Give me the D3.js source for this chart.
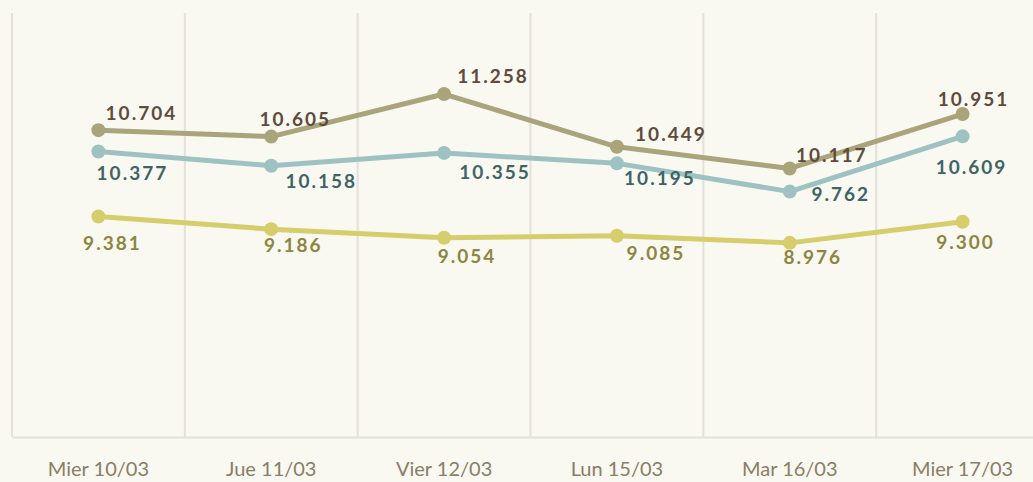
<!DOCTYPE html>
<html>
<head>
<meta charset="utf-8">
<script src="https://cdn.jsdelivr.net/npm/d3@7"></script>
<style>
  html, body { margin: 0; padding: 0; background: #f9f8f1; }
  svg { display: block; }
  .lbl { font-family: Lato, "Open Sans", sans-serif; font-weight: bold; font-size: 19px; letter-spacing: 2px; }
  .axis text { font-family: Lato, "Open Sans", sans-serif; font-size: 20px; fill: #8a7e66; }
</style>
</head>
<body>
<svg id="chart"></svg>
<script>
const categories = ["Mier 10/03", "Jue 11/03", "Vier 12/03", "Lun 15/03", "Mar 16/03", "Mier 17/03"];
const serieA = [10.704, 10.605, 11.258, 10.449, 10.117, 10.951];
const serieB = [10.377, 10.158, 10.355, 10.195, 9.762, 10.609];
const serieC = [9.381, 9.186, 9.054, 9.085, 8.976, 9.300];

// label offsets from each point (center x, baseline y)
const offsA = [[43, -10], [24, -11], [49, -11], [54, -6], [42, -6], [11, -8]];
const offsB = [[34, 29], [50, 22], [51, 26], [43, 22], [51, 9], [9, 38]];
const offsC = [[14, 34], [22, 23], [23, 25], [39, 24], [23, 21], [3, 27]];

const width = 1033, height = 482;
const svg = d3.select("#chart").attr("width", width).attr("height", height);

const xScale = d3.scaleBand().domain(categories).range([12, 1049]);
const yScale = d3.scaleLinear().domain([6, 12.5]).range([437, 13]);

// vertical gridlines at category edges
const edges = categories.map((c) => xScale(c)).concat([xScale.range()[1]]);
svg.append("g")
  .selectAll("line")
  .data(edges)
  .join("line")
  .attr("x1", (d) => d).attr("x2", (d) => d)
  .attr("y1", yScale(12.5)).attr("y2", yScale(6))
  .attr("stroke", "#e3e1d8")
  .attr("stroke-width", 2);

const xAxis = svg.append("g")
  .attr("class", "axis")
  .attr("transform", `translate(0, ${yScale(6)})`)
  .call(d3.axisBottom(xScale).tickSize(0).tickSizeOuter(0).tickPadding(25));
xAxis.select(".domain").attr("stroke", "#e3e1d8").attr("stroke-width", 2);

const series = [
  { values: serieA, offs: offsA, line: "#a9a47a", text: "#5e4b3c" },
  { values: serieB, offs: offsB, line: "#9dc2c1", text: "#3e6465" },
  { values: serieC, offs: offsC, line: "#d6cd6c", text: "#8c8640" }
];

const cx = (i) => xScale(categories[i]) + xScale.bandwidth() / 2;

series.forEach((s) => {
  const g = svg.append("g");
  g.append("path")
    .datum(s.values)
    .attr("d", d3.line().x((d, i) => cx(i)).y((d) => yScale(d)))
    .attr("fill", "none")
    .attr("stroke", s.line)
    .attr("stroke-width", 5)
    .attr("stroke-linejoin", "round");
  g.selectAll("circle")
    .data(s.values)
    .join("circle")
    .attr("cx", (d, i) => cx(i))
    .attr("cy", (d) => yScale(d))
    .attr("r", 7)
    .attr("fill", s.line);
  g.selectAll("text")
    .data(s.values)
    .join("text")
    .attr("class", "lbl")
    .attr("x", (d, i) => cx(i) + s.offs[i][0])
    .attr("y", (d, i) => yScale(d) + s.offs[i][1])
    .attr("text-anchor", "middle")
    .attr("fill", s.text)
    .text((d) => d.toFixed(3));
});
</script>
</body>
</html>
